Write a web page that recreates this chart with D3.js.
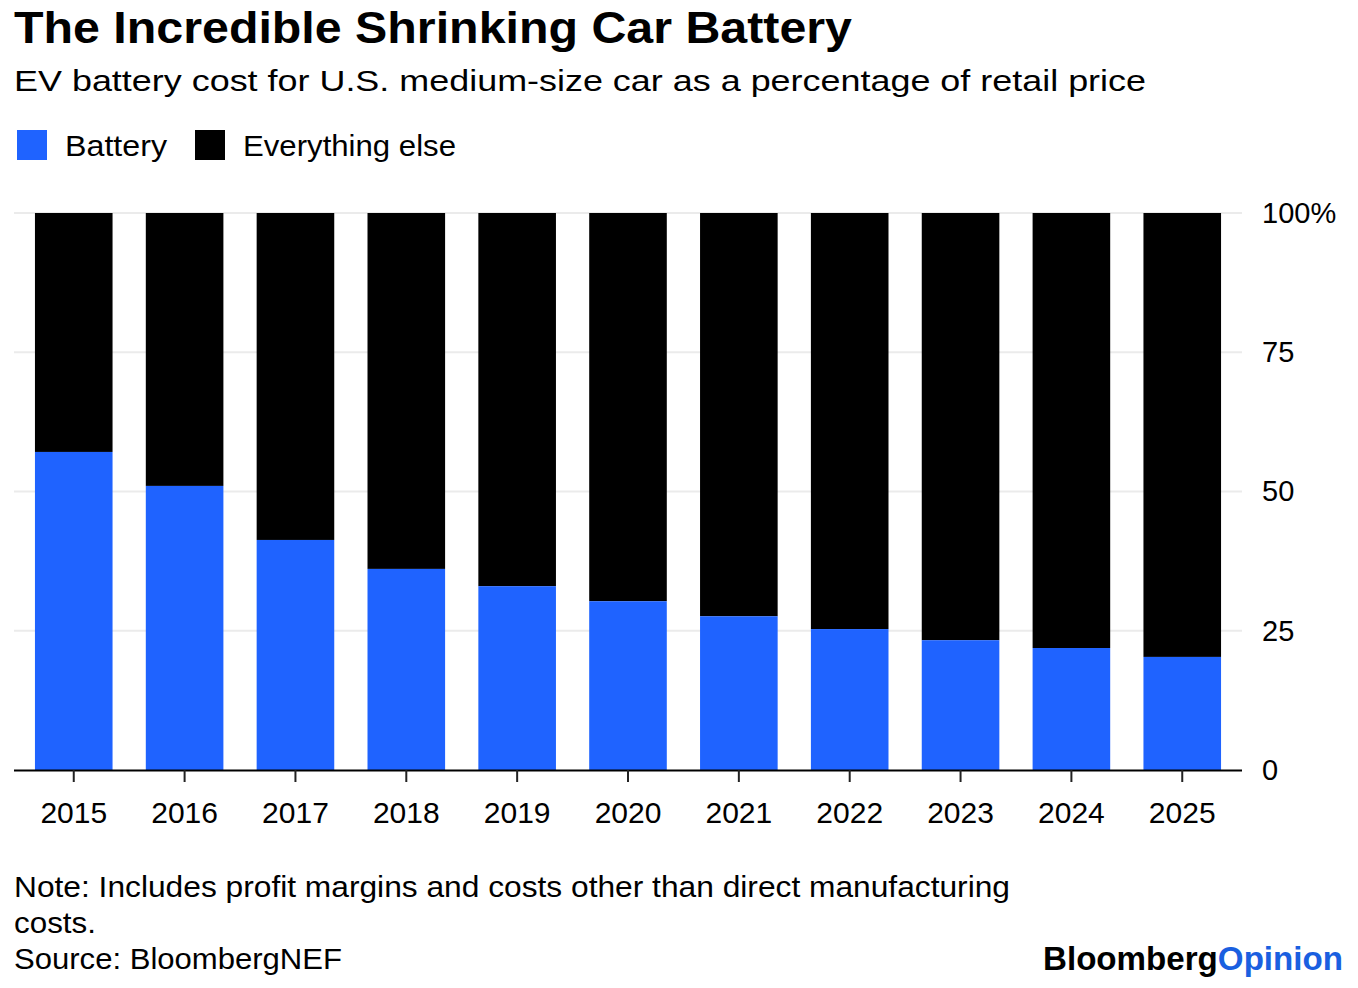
<!DOCTYPE html>
<html>
<head>
<meta charset="utf-8">
<script src="https://cdn.jsdelivr.net/npm/d3@7"></script>
<style>
  body { margin: 0; background: #fff; }
  text { font-family: "Liberation Sans", Arial, sans-serif; }
</style>
</head>
<body>
<div id="chart"></div>
<script>
// Data
var years = ["2015", "2016", "2017", "2018", "2019", "2020", "2021", "2022", "2023", "2024", "2025"];
var battery = [57.1, 51.0, 41.3, 36.1, 33.0, 30.3, 27.6, 25.3, 23.3, 21.9, 20.3];
var yTicks = [0, 25, 50, 75, 100];

var width = 1358, height = 988;
var blue = "#1f63ff";

var svg = d3.select("#chart")
    .append("svg")
    .attr("width", width)
    .attr("height", height);

// Title block
svg.append("text")
    .attr("x", 14).attr("y", 43)
    .attr("font-size", 45).attr("font-weight", "bold")
    .attr("textLength", 838).attr("lengthAdjust", "spacingAndGlyphs")
    .text("The Incredible Shrinking Car Battery");

svg.append("text")
    .attr("x", 14).attr("y", 91)
    .attr("font-size", 30)
    .attr("textLength", 1132).attr("lengthAdjust", "spacingAndGlyphs")
    .text("EV battery cost for U.S. medium-size car as a percentage of retail price");

// Legend
var legend = [
    { name: "Battery", color: blue, x: 17, len: 102 },
    { name: "Everything else", color: "#000", x: 195, len: 213 }
];
var lg = svg.selectAll(".legend")
    .data(legend)
    .enter()
    .append("g")
    .attr("transform", d => `translate(${d.x}, 130)`);
lg.append("rect")
    .attr("width", 30).attr("height", 30)
    .attr("fill", d => d.color);
lg.append("text")
    .attr("x", 48).attr("y", 26)
    .attr("font-size", 30)
    .attr("textLength", d => d.len).attr("lengthAdjust", "spacingAndGlyphs")
    .text(d => d.name);

// Scales
var x = d3.scaleBand()
    .domain(years)
    .range([15, 1241])
    .paddingInner(0.3)
    .paddingOuter(0.18);

var y = d3.scaleLinear()
    .domain([0, 100])
    .range([770, 213]);

// Gridlines
svg.selectAll(".grid")
    .data(yTicks.filter(d => d > 0))
    .enter()
    .append("line")
    .attr("x1", 14).attr("x2", 1242)
    .attr("y1", d => y(d)).attr("y2", d => y(d))
    .attr("stroke", "#ebebeb")
    .attr("stroke-width", 2);

// Everything else (full stack to 100)
svg.selectAll(".rest")
    .data(years)
    .enter()
    .append("rect")
    .attr("x", d => x(d))
    .attr("width", x.bandwidth())
    .attr("y", y(100))
    .attr("height", (d, i) => y(battery[i]) - y(100))
    .attr("fill", "#000");

// Battery
svg.selectAll(".bat")
    .data(years)
    .enter()
    .append("rect")
    .attr("x", d => x(d))
    .attr("width", x.bandwidth())
    .attr("y", (d, i) => y(battery[i]))
    .attr("height", (d, i) => y(0) - y(battery[i]))
    .attr("fill", blue);

// X axis
var xAxis = svg.append("g")
    .attr("transform", `translate(0, ${y(0)})`)
    .call(d3.axisBottom(x).tickSize(12).tickPadding(20));
xAxis.select(".domain")
    .attr("d", "M14,0.5H1242")
    .attr("stroke", "#000").attr("stroke-width", 2);
xAxis.selectAll(".tick line").attr("stroke", "#222").attr("stroke-width", 2);
xAxis.selectAll(".tick text")
    .attr("font-size", 30)
    .attr("fill", "#000")
    .attr("font-family", "Liberation Sans, Arial, sans-serif");

// Y axis labels (right side)
var yAxis = svg.append("g")
    .attr("transform", "translate(1262, 0)")
    .call(d3.axisRight(y).tickValues(yTicks).tickSize(0).tickPadding(0)
        .tickFormat(d => d === 100 ? "100%" : d));
yAxis.select(".domain").remove();
yAxis.selectAll(".tick text")
    .attr("font-size", 29)
    .attr("fill", "#000")
    .attr("font-family", "Liberation Sans, Arial, sans-serif");

// Footer
var notes = ["Note: Includes profit margins and costs other than direct manufacturing", "costs.", "Source: BloombergNEF"];
var noteLens = [996, 82, 328];
svg.selectAll(".note")
    .data(notes)
    .enter()
    .append("text")
    .attr("x", 14)
    .attr("y", (d, i) => 897 + i * 36)
    .attr("font-size", 29)
    .attr("textLength", (d, i) => noteLens[i]).attr("lengthAdjust", "spacingAndGlyphs")
    .text(d => d);

var brand = svg.append("text")
    .attr("x", 1043).attr("y", 970)
    .attr("font-size", 33)
    .attr("font-weight", "bold")
    .attr("textLength", 300).attr("lengthAdjust", "spacingAndGlyphs");
brand.append("tspan").attr("fill", "#000").text("Bloomberg");
brand.append("tspan").attr("fill", "#1a5fe0").text("Opinion");
</script>
</body>
</html>
